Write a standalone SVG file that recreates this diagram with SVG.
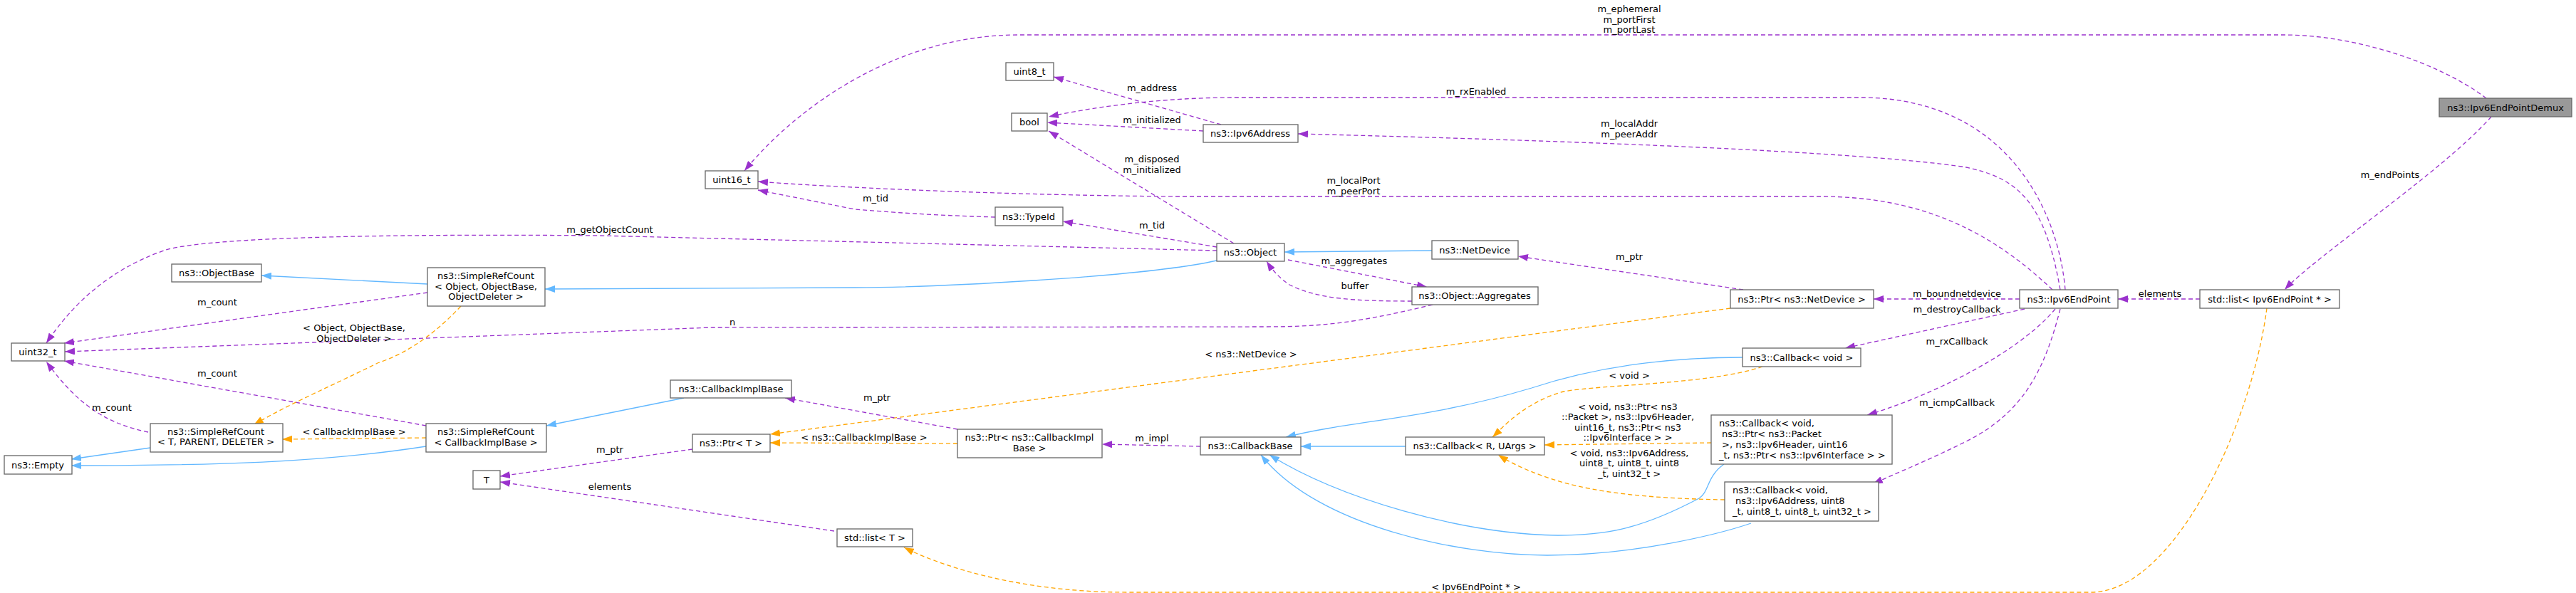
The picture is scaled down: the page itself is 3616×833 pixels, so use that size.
<svg xmlns="http://www.w3.org/2000/svg" width="3616" height="833" viewBox="0 0 3616 833">
<style>
text{font-family:"DejaVu Sans","Liberation Sans",sans-serif;font-size:13px;fill:#000}
.n rect{fill:#fff;stroke:#666;stroke-width:1.3}
.n text{text-anchor:middle}
.n text.l{text-anchor:start}
.e path{fill:none;stroke-width:1.3}
.p{stroke:#9a32cd;stroke-dasharray:6,4}
.b{stroke:#63b8ff}
.o{stroke:#ffa500;stroke-dasharray:6,4}
.lab text{text-anchor:middle}
</style>
<defs>
<marker id="mp" markerUnits="userSpaceOnUse" markerWidth="14" markerHeight="10" viewBox="0 0 14 10" refX="14" refY="5" orient="auto"><path d="M0,0L14,5L0,10z" fill="#9a32cd"/></marker>
<marker id="mb" markerUnits="userSpaceOnUse" markerWidth="14" markerHeight="10" viewBox="0 0 14 10" refX="14" refY="5" orient="auto"><path d="M0,0L14,5L0,10z" fill="#63b8ff"/></marker>
<marker id="mo" markerUnits="userSpaceOnUse" markerWidth="14" markerHeight="10" viewBox="0 0 14 10" refX="14" refY="5" orient="auto"><path d="M0,0L14,5L0,10z" fill="#ffa500"/></marker>
</defs>
<rect width="3616" height="833" fill="#fff"/>
<g id="edges" class="e">
<path class="p" marker-end="url(#mp)" d="M3490,138 C3420,85 3300,49 3207,49 L1430,49 C1250,49 1110,160 1045,240"/>
<path class="p" marker-end="url(#mp)" d="M3497,164 C3430,240 3250,360 3207,407"/>
<path class="p" marker-end="url(#mp)" d="M3088,420 L2973,420"/>
<path class="o" marker-end="url(#mo)" d="M3182,433 C3160,600 3050,832 2935,832 L1583,832 C1420,832 1310,790 1269,769"/>
<path class="p" marker-end="url(#mp)" d="M2899,407 C2890,300 2820,140 2617,137 L1736,137 C1600,137 1500,158 1472,164"/>
<path class="p" marker-end="url(#mp)" d="M2892,407 C2870,280 2830,250 2760,235 C2600,210 2100,195 1822,188"/>
<path class="p" marker-end="url(#mp)" d="M2881,407 C2790,320 2690,276 2555,276 L1650,276 C1400,274 1150,262 1064,255"/>
<path class="p" marker-end="url(#mp)" d="M2835,420 L2630,420"/>
<path class="p" marker-end="url(#mp)" d="M2842,434 L2590,489"/>
<path class="p" marker-end="url(#mp)" d="M2885,434 C2830,500 2700,560 2621,583"/>
<path class="p" marker-end="url(#mp)" d="M2892,434 C2870,520 2840,580 2760,620 C2700,650 2660,665 2629,680"/>
<path class="p" marker-end="url(#mp)" d="M2447,407 L2131,360"/>
<path class="o" marker-end="url(#mo)" d="M2429,433 L1081,610"/>
<path class="b" marker-end="url(#mb)" d="M2446,502 C2350,502 2250,512 2150,545 C2000,590 1900,590 1805,614"/>
<path class="o" marker-end="url(#mo)" d="M2474,515 C2400,540 2250,540 2195,550 C2140,565 2110,600 2095,614"/>
<path class="b" marker-end="url(#mb)" d="M2420,652 C2395,670 2400,690 2385,700 C2300,745 2250,752 2187,752 C2050,750 1880,700 1782,639"/>
<path class="o" marker-end="url(#mo)" d="M2402,622 L2168,625"/>
<path class="b" marker-end="url(#mb)" d="M2458,735 C2420,748 2300,780 2172,780 C2050,780 1850,740 1770,639"/>
<path class="o" marker-end="url(#mo)" d="M2421,702 C2300,700 2240,690 2195,678 C2150,665 2120,650 2103,639"/>
<path class="b" marker-end="url(#mb)" d="M1973,627 L1826,627"/>
<path class="p" marker-end="url(#mp)" d="M1685,627 L1547,624"/>
<path class="p" marker-end="url(#mp)" d="M1344,603 L1102,559"/>
<path class="o" marker-end="url(#mo)" d="M1344,623 L1081,622"/>
<path class="p" marker-end="url(#mp)" d="M972,631 L702,669"/>
<path class="p" marker-end="url(#mp)" d="M1171,746 L702,677"/>
<path class="b" marker-end="url(#mb)" d="M960,559 L767,598"/>
<path class="o" marker-end="url(#mo)" d="M598,615 L396,617"/>
<path class="p" marker-end="url(#mp)" d="M598,598 L90,507"/>
<path class="b" marker-end="url(#mb)" d="M598,627 C450,650 300,654 100,654"/>
<path class="b" marker-end="url(#mb)" d="M211,629 L100,645"/>
<path class="p" marker-end="url(#mp)" d="M208,607 C150,595 110,570 65,508"/>
<path class="o" marker-end="url(#mo)" d="M647,430 C600,480 560,500 530,510 C470,540 400,570 356,597"/>
<path class="b" marker-end="url(#mb)" d="M600,399 L367,387"/>
<path class="p" marker-end="url(#mp)" d="M600,411 L90,482"/>
<path class="b" marker-end="url(#mb)" d="M1708,366 C1600,390 1300,404 1200,404 L765,406"/>
<path class="p" marker-end="url(#mp)" d="M1708,352 L842,331 C500,328 280,335 230,352 C150,380 100,430 65,482"/>
<path class="p" marker-end="url(#mp)" d="M2011,428 C1900,455 1850,459 1774,459 L1000,460 L91,494"/>
<path class="p" marker-end="url(#mp)" d="M1808,365 L2003,403"/>
<path class="p" marker-end="url(#mp)" d="M1982,423 C1900,423 1850,420 1810,400 C1795,390 1785,378 1778,367"/>
<path class="b" marker-end="url(#mb)" d="M2010,352 L1803,354"/>
<path class="p" marker-end="url(#mp)" d="M1708,347 L1492,311"/>
<path class="p" marker-end="url(#mp)" d="M1397,305 C1300,302 1250,298 1200,294 L1064,267"/>
<path class="p" marker-end="url(#mp)" d="M1732,342 L1472,184"/>
<path class="p" marker-end="url(#mp)" d="M1689,184 L1470,172"/>
<path class="p" marker-end="url(#mp)" d="M1714,175 L1479,108"/>
</g>
<g id="labels" class="lab">
<text x="2287" y="17">m_ephemeral</text><text x="2287" y="32">m_portFirst</text><text x="2287" y="46">m_portLast</text>
<text x="3355" y="250">m_endPoints</text>
<text x="3032" y="417">elements</text>
<text x="2072" y="829">&lt; Ipv6EndPoint * &gt;</text>
<text x="2072" y="133">m_rxEnabled</text>
<text x="2287" y="178">m_localAddr</text><text x="2287" y="193">m_peerAddr</text>
<text x="1900" y="258">m_localPort</text><text x="1900" y="273">m_peerPort</text>
<text x="2747" y="417">m_boundnetdevice</text>
<text x="2747" y="439">m_destroyCallback</text>
<text x="2747" y="484">m_rxCallback</text>
<text x="2747" y="570">m_icmpCallback</text>
<text x="2287" y="365">m_ptr</text>
<text x="1756" y="502">&lt; ns3::NetDevice &gt;</text>
<text x="2287" y="532">&lt; void &gt;</text>
<text x="2285" y="576">&lt; void, ns3::Ptr&lt; ns3</text><text x="2285" y="590">::Packet &gt;, ns3::Ipv6Header,</text><text x="2285" y="605">uint16_t, ns3::Ptr&lt; ns3</text><text x="2285" y="619">::Ipv6Interface &gt; &gt;</text>
<text x="2287" y="641">&lt; void, ns3::Ipv6Address,</text><text x="2287" y="655">uint8_t, uint8_t, uint8</text><text x="2287" y="670">_t, uint32_t &gt;</text>
<text x="1617" y="620">m_impl</text>
<text x="1231" y="563">m_ptr</text>
<text x="1213" y="619">&lt; ns3::CallbackImplBase &gt;</text>
<text x="856" y="636">m_ptr</text>
<text x="856" y="688">elements</text>
<text x="497" y="611">&lt; CallbackImplBase &gt;</text>
<text x="305" y="529">m_count</text>
<text x="157" y="577">m_count</text>
<text x="497" y="465">&lt; Object, ObjectBase,</text><text x="497" y="480">ObjectDeleter &gt;</text>
<text x="305" y="429">m_count</text>
<text x="856" y="327">m_getObjectCount</text>
<text x="1028" y="457">n</text>
<text x="1901" y="371">m_aggregates</text>
<text x="1902" y="406">buffer</text>
<text x="1617" y="321">m_tid</text>
<text x="1229" y="283">m_tid</text>
<text x="1617" y="228">m_disposed</text><text x="1617" y="243">m_initialized</text>
<text x="1617" y="173">m_initialized</text>
<text x="1617" y="128">m_address</text>
</g>
<g id="Ipv6EndPointDemux" class="n"><rect x="3424" y="138" width="186" height="26" style="fill:#999"/><text x="3517" y="156">ns3::Ipv6EndPointDemux</text></g>
<g id="uint16_t" class="n"><rect x="990" y="240" width="74" height="25"/><text x="1027" y="257">uint16_t</text></g>
<g id="uint32_t" class="n"><rect x="16" y="482" width="75" height="25"/><text x="53" y="499">uint32_t</text></g>
<g id="uint8_t" class="n"><rect x="1412" y="88" width="67" height="25"/><text x="1445" y="105">uint8_t</text></g>
<g id="bool" class="n"><rect x="1420" y="159" width="50" height="25"/><text x="1445" y="176">bool</text></g>
<g id="Ipv6Address" class="n"><rect x="1689" y="175" width="133" height="25"/><text x="1755" y="192">ns3::Ipv6Address</text></g>
<g id="TypeId" class="n"><rect x="1397" y="291" width="95" height="26"/><text x="1444" y="309">ns3::TypeId</text></g>
<g id="Object" class="n"><rect x="1708" y="342" width="95" height="25"/><text x="1755" y="359">ns3::Object</text></g>
<g id="NetDevice" class="n"><rect x="2010" y="338" width="121" height="26"/><text x="2070" y="356">ns3::NetDevice</text></g>
<g id="ObjectAggregates" class="n"><rect x="1982" y="403" width="177" height="25"/><text x="2070" y="420">ns3::Object::Aggregates</text></g>
<g id="ObjectBase" class="n"><rect x="241" y="371" width="126" height="25"/><text x="304" y="388">ns3::ObjectBase</text></g>
<g id="SimpleRefCountObject" class="n"><rect x="600" y="376" width="165" height="54"/><text x="682" y="392">ns3::SimpleRefCount</text><text x="682" y="407">&lt; Object, ObjectBase,</text><text x="682" y="421">ObjectDeleter &gt;</text></g>
<g id="Empty" class="n"><rect x="6" y="640" width="95" height="26"/><text x="53" y="658">ns3::Empty</text></g>
<g id="SimpleRefCountT" class="n"><rect x="211" y="595" width="186" height="40"/><text x="303" y="611">ns3::SimpleRefCount</text><text x="303" y="625">&lt; T, PARENT, DELETER &gt;</text></g>
<g id="SimpleRefCountCIB" class="n"><rect x="598" y="595" width="169" height="40"/><text x="682" y="611">ns3::SimpleRefCount</text><text x="682" y="626">&lt; CallbackImplBase &gt;</text></g>
<g id="CallbackImplBase" class="n"><rect x="941" y="534" width="170" height="25"/><text x="1026" y="551">ns3::CallbackImplBase</text></g>
<g id="PtrT" class="n"><rect x="972" y="610" width="109" height="25"/><text x="1026" y="627">ns3::Ptr&lt; T &gt;</text></g>
<g id="T" class="n"><rect x="664" y="661" width="38" height="26"/><text x="683" y="679">T</text></g>
<g id="listT" class="n"><rect x="1175" y="743" width="106" height="25"/><text x="1228" y="760">std::list&lt; T &gt;</text></g>
<g id="PtrCIB" class="n"><rect x="1344" y="603" width="203" height="40"/><text x="1445" y="619">ns3::Ptr&lt; ns3::CallbackImpl</text><text x="1445" y="634">Base &gt;</text></g>
<g id="CallbackBase" class="n"><rect x="1685" y="614" width="141" height="25"/><text x="1755" y="631">ns3::CallbackBase</text></g>
<g id="CallbackRUArgs" class="n"><rect x="1973" y="614" width="195" height="25"/><text x="2070" y="631">ns3::Callback&lt; R, UArgs &gt;</text></g>
<g id="PtrNetDevice" class="n"><rect x="2429" y="407" width="201" height="26"/><text x="2529" y="425">ns3::Ptr&lt; ns3::NetDevice &gt;</text></g>
<g id="Ipv6EndPoint" class="n"><rect x="2835" y="407" width="138" height="26"/><text x="2904" y="425">ns3::Ipv6EndPoint</text></g>
<g id="listIpv6EndPoint" class="n"><rect x="3088" y="407" width="196" height="26"/><text x="3186" y="425">std::list&lt; Ipv6EndPoint * &gt;</text></g>
<g id="CallbackVoid" class="n"><rect x="2446" y="489" width="166" height="26"/><text x="2529" y="507">ns3::Callback&lt; void &gt;</text></g>
<g id="CallbackRx" class="n"><rect x="2402" y="583" width="254" height="69"/><text class="l" x="2413" y="599">ns3::Callback&lt; void,</text><text class="l" x="2417" y="614">ns3::Ptr&lt; ns3::Packet</text><text class="l" x="2417" y="629">&gt;, ns3::Ipv6Header, uint16</text><text class="l" x="2413" y="644">_t, ns3::Ptr&lt; ns3::Ipv6Interface &gt; &gt;</text></g>
<g id="CallbackIcmp" class="n"><rect x="2421" y="677" width="216" height="55"/><text class="l" x="2432" y="693">ns3::Callback&lt; void,</text><text class="l" x="2436" y="708">ns3::Ipv6Address, uint8</text><text class="l" x="2432" y="723">_t, uint8_t, uint8_t, uint32_t &gt;</text></g>
</svg>
